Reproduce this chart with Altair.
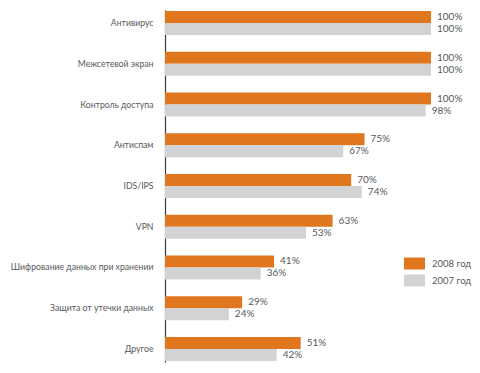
import altair as alt
import pandas as pd

categories = [
    "Антивирус",
    "Межсетевой экран",
    "Контроль доступа",
    "Антиспам",
    "IDS/IPS",
    "VPN",
    "Шифрование данных при хранении",
    "Защита от утечки данных",
    "Другое",
]
values_2008 = [100, 100, 100, 75, 70, 63, 41, 29, 51]
values_2007 = [100, 100, 98, 67, 74, 53, 36, 24, 42]
years = ["2008 год", "2007 год"]
colors = ["#E0761E", "#D2D3D5"]

rows = []
for c, v8, v7 in zip(categories, values_2008, values_2007):
    rows.append({"cat": c, "year": years[0], "value": v8, "label": f"{v8}%"})
    rows.append({"cat": c, "year": years[1], "value": v7, "label": f"{v7}%"})
df = pd.DataFrame(rows)

FONT = "Lato"
TXT = "#58595B"

y = alt.Y(
    "cat:N",
    sort=categories,
    title=None,
    scale=alt.Scale(paddingInner=0.411, paddingOuter=0.025),
    axis=alt.Axis(
        ticks=False,
        grid=False,
        domain=True,
        domainColor="#3a3a3a",
        domainWidth=1.2,
        labelPadding=12,
        labelFont=FONT,
        labelFontSize=8.7,
        labelColor=TXT,
        labelLimit=300,
    ),
)
yoff = alt.YOffset("year:N", sort=years, scale=alt.Scale(paddingInner=0, paddingOuter=0))
x = alt.X("value:Q", scale=alt.Scale(domain=[0, 100], nice=False), axis=None)

bars = alt.Chart(df).mark_bar(size=12).encode(
    x=x,
    y=y,
    yOffset=yoff,
    color=alt.Color(
        "year:N",
        sort=years,
        scale=alt.Scale(domain=years, range=colors),
        legend=alt.Legend(
            title=None,
            orient="none",
            legendX=239,
            legendY=243,
            symbolType="M-1,-0.57H1V0.57H-1Z",
            symbolSize=441,
            symbolStrokeWidth=0,
            symbolOpacity=1,
            labelFont=FONT,
            labelFontSize=9.5,
            labelColor=TXT,
            labelOffset=7,
            rowPadding=0,
            padding=0,
        ),
    ),
)

text = alt.Chart(df).mark_text(
    align="left", baseline="middle", dx=6, font=FONT, fontSize=10, color=TXT
).encode(x=x, y=y, yOffset=yoff, text="label:N")

chart = (
    alt.layer(bars, text)
    .properties(
        width=266,
        height=352,
        autosize=alt.AutoSizeParams(type="none"),
        padding={"left": 157, "top": 2, "right": 41, "bottom": 1},
    )
    .configure(background="white")
    .configure_view(stroke=None)
)

chart.save("out.html", embed_options={"renderer": "svg", "actions": False})
